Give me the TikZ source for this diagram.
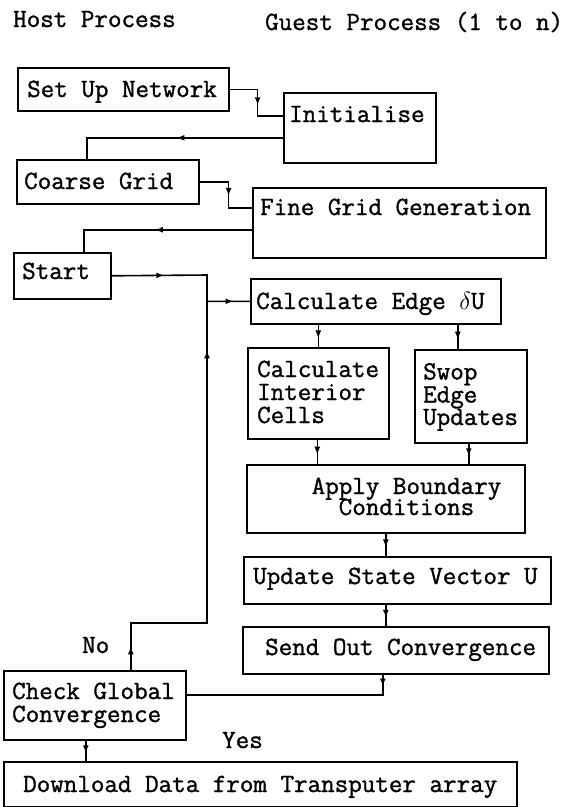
\documentclass[tikz,border=0pt]{standalone}
\usepackage{fontspec}
\newfontfamily\typer{Latin Modern Mono}[BoldFont={Latin Modern Mono}, BoldFeatures={FakeBold=1.2}]
\usetikzlibrary{arrows.meta,decorations.markings}
\tikzset{
  lbl/.style={inner sep=0pt, anchor=base west, align=left,
    font=\typer\bfseries\fontsize{26.3}{23}\selectfont},
  box/.style={draw, line width=1.6pt, inner sep=0pt, anchor=north west},
  flow/.style={line width=1.6pt},
  arrowat/.style={postaction={decorate, decoration={markings,
      mark=at position #1 with {\arrow{Latex[length=8pt,width=6pt]}}}}},
}
\begin{document}
\begin{tikzpicture}[x=1pt,y=-1pt]
\useasboundingbox (0,0) rectangle (576,807);

% column headings
\node[lbl] (host)  at (13,27) {Host Process};
\node[lbl] (guest) at (265,30) {Guest Process (1 to n)};

% boxes
\node[box, minimum width=211pt, minimum height=43pt] (setup)    at (17,67)   {};
\node[box, minimum width=152pt, minimum height=70pt] (init)     at (283,92)  {};
\node[box, minimum width=182pt, minimum height=44pt] (coarse)   at (16,159)  {};
\node[box, minimum width=293pt, minimum height=70pt] (fine)     at (252,187) {};
\node[box, minimum width=97pt,  minimum height=46pt] (start)    at (13,252)  {};
\node[box, minimum width=250pt, minimum height=45pt] (edge)     at (250,278) {};
\node[box, minimum width=141pt, minimum height=91pt] (interior) at (247,347) {};
\node[box, minimum width=112pt, minimum height=93pt] (swop)     at (414,349) {};
\node[box, minimum width=278pt, minimum height=68pt] (apply)    at (246,464) {};
\node[box, minimum width=307pt, minimum height=47pt] (update)   at (243,556) {};
\node[box, minimum width=306pt, minimum height=47pt] (send)     at (242,626) {};
\node[box, minimum width=182pt, minimum height=69pt] (check)    at (3,670)   {};
\node[box, minimum width=513pt, minimum height=45pt] (download) at (3,761)   {};

% box texts (multi-line texts are placed by the baseline of their last line)
\node[lbl] (tsetup)  at (27,97)   {Set Up Network};
\node[lbl] (tinit)   at (289,122) {Initialise};
\node[lbl] (tcoarse) at (24,189)  {Coarse Grid};
\node[lbl] (tfine)   at (260,215) {Fine Grid Generation};
\node[lbl] (tstart)  at (22,279)  {Start};
\node[lbl] (tedge)   at (256,309) {Calculate Edge $\delta$U};
\node[lbl] (tint)    at (257,423) {Calculate\\Interior\\Cells};
\node[lbl] (tswop)   at (423,425) {Swop\\Edge\\[-0.5pt]Updates};
\node[lbl, anchor=base, align=center] (tapply) at (406.5,515) {Apply Boundary\\[-2pt]Conditions};
\node[lbl] (tupdate) at (253,584) {Update State Vector U};
\node[lbl] (tsend)   at (265,655) {Send Out Convergence};
\node[lbl] (tcheck)  at (12,722)  {Check Global\\Convergence};
\node[lbl] (tdown)   at (23,792)  {Download Data from Transputer array};

% branch labels
\node[lbl] (no)  at (82,653)  {No};
\node[lbl] (yes) at (222,748) {Yes};

% junction points of the iteration loop
\coordinate (join)  at (207,275);
\coordinate (loopc) at (207,623);

% connectors
\draw[flow, arrowat=0.55] (setup.east) -- ++(28,0) |- ([yshift=12pt]init.west);
\draw[flow, arrowat=0.49] ([yshift=-10pt]init.west) -| ([xshift=-21pt]coarse.north);
\draw[flow, arrowat=0.55] (coarse.east) -- ++(29,0) |- ([yshift=15pt]fine.west);
\draw[flow, arrowat=0.51] ([yshift=-7pt]fine.west) -| ([xshift=21.5pt]start.north);
\draw[flow, arrowat=0.32, arrowat=0.90] (start.east) -- (join) |- (edge.west);
\draw[flow, arrowat=0.62] (interior.north |- edge.south) -- (interior.north);
\draw[flow, arrowat=0.62] ([xshift=-13pt]swop.north |- edge.south) -- ([xshift=-13pt]swop.north);
\draw[flow, arrowat=0.62] ([xshift=-1pt]interior.south) -- ([xshift=-1pt]interior.south |- apply.north);
\draw[flow, arrowat=0.62] ([xshift=-2pt]swop.south) -- ([xshift=-2pt]swop.south |- apply.north);
\draw[flow, arrowat=0.62] (apply.south) -- (apply.south |- update.north);
\draw[flow, arrowat=0.62] (update.south -| apply.south) -- (send.north -| apply.south);
\draw[flow, arrowat=0.055] ([xshift=-13pt]send.south) |- ([yshift=10.5pt]check.east);
\draw[flow, arrowat=0.05, arrowat=0.84] ([xshift=36pt]check.north) |- (loopc) -- (join);
\draw[flow, arrowat=0.62] ([xshift=-9pt]check.south) -- ([xshift=-9pt]check.south |- download.north);
\end{tikzpicture}
\end{document}
